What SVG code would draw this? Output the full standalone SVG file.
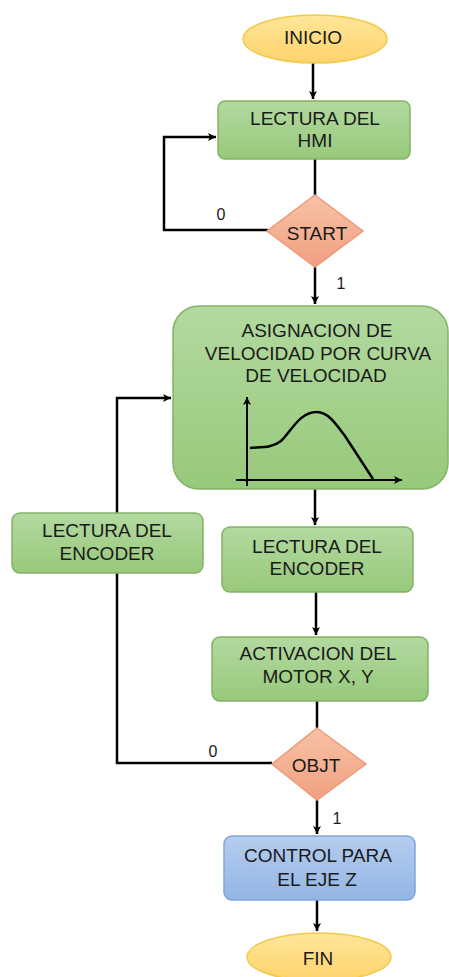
<svg xmlns="http://www.w3.org/2000/svg" width="449" height="977" viewBox="0 0 449 977">
<defs>
<linearGradient id="gY" x1="0" y1="0" x2="0" y2="1"><stop offset="0" stop-color="#FFE69A"/><stop offset="1" stop-color="#FFD36B"/></linearGradient>
<linearGradient id="gG" x1="0" y1="0" x2="0" y2="1"><stop offset="0" stop-color="#B3D9A0"/><stop offset="1" stop-color="#97C97B"/></linearGradient>
<linearGradient id="gO" x1="0" y1="0" x2="0" y2="1"><stop offset="0" stop-color="#F8C2A6"/><stop offset="1" stop-color="#F0A080"/></linearGradient>
<linearGradient id="gB" x1="0" y1="0" x2="0" y2="1"><stop offset="0" stop-color="#B5CDEF"/><stop offset="1" stop-color="#93B5E3"/></linearGradient>
<marker id="arr" markerWidth="10" markerHeight="10" refX="9" refY="5" orient="auto" markerUnits="userSpaceOnUse">
<path d="M1,1 L9,5 L1,9 L3,5 z" fill="#000"/>
</marker>
</defs>
<style>
text{font-family:"Liberation Sans",Arial,sans-serif;font-size:19px;fill:#1a1a1a;text-anchor:middle}
.lbl{font-size:16px}
.term{fill:url(#gY);stroke:#F2C94C;stroke-width:1.5}
.proc{fill:url(#gG);stroke:#82B366;stroke-width:1.5}
.dec{fill:url(#gO);stroke:#F0997A;stroke-width:1.5}
.blue{fill:url(#gB);stroke:#7EA6E0;stroke-width:1.5}
.c{fill:none;stroke:#000;stroke-width:2.5}
.ax{fill:none;stroke:#000;stroke-width:2}
</style>
<g id="connectors">
<path class="c" d="M313 63 V99" marker-end="url(#arr)"/>
<path class="c" d="M315 159 V195"/>
<path class="c" d="M268 230 H164 V137 H216" marker-end="url(#arr)"/>
<path class="c" d="M315 267 V304" marker-end="url(#arr)"/>
<path class="c" d="M315 489 V525" marker-end="url(#arr)"/>
<path class="c" d="M316 592 V635" marker-end="url(#arr)"/>
<path class="c" d="M317 701 V728"/>
<path class="c" d="M272 763 H117 V573"/>
<path class="c" d="M117 513 V398 H171" marker-end="url(#arr)"/>
<path class="c" d="M317 800 V834" marker-end="url(#arr)"/>
<path class="c" d="M317 900 V931" marker-end="url(#arr)"/>
<text class="lbl" x="221" y="220">0</text>
<text class="lbl" x="341" y="289">1</text>
<text class="lbl" x="213" y="757">0</text>
<text class="lbl" x="337" y="824">1</text>
</g>
<g id="inicio">
<ellipse class="term" cx="315" cy="39" rx="72" ry="24"/>
<text x="313" y="44">INICIO</text>
</g>
<g id="lectura-hmi">
<rect class="proc" x="218" y="101" width="192" height="58" rx="7"/>
<text x="315" y="125">LECTURA DEL</text>
<text x="315" y="147">HMI</text>
</g>
<g id="start">
<path class="dec" d="M315 195 L363 231 L315 267 L267 231 Z"/>
<text x="317" y="240">START</text>
</g>
<g id="asignacion">
<rect class="proc" x="173" y="306" width="275" height="183" rx="26"/>
<text x="317" y="337">ASIGNACION DE</text>
<text x="318" y="360">VELOCIDAD  POR CURVA</text>
<text x="316" y="382">DE VELOCIDAD</text>
<path class="ax" d="M247 486 V397" marker-end="url(#arr)"/>
<path class="ax" d="M236 480 H402" marker-end="url(#arr)"/>
<path d="M250 448 C262 447 272 448 281 441 C291 432 299 412 317 412 C328 412 336 424 345 436 L373 479" fill="none" stroke="#000" stroke-width="2.5"/>
</g>
<g id="lectura-encoder-left">
<rect class="proc" x="12" y="513" width="191" height="60" rx="8"/>
<text x="107" y="537">LECTURA DEL</text>
<text x="107" y="560">ENCODER</text>
</g>
<g id="lectura-encoder">
<rect class="proc" x="222" y="527" width="191" height="65" rx="8"/>
<text x="317" y="553">LECTURA DEL</text>
<text x="317" y="575">ENCODER</text>
</g>
<g id="activacion">
<rect class="proc" x="212" y="637" width="216" height="64" rx="8"/>
<text x="318" y="660">ACTIVACION DEL</text>
<text x="318" y="683">MOTOR X, Y</text>
</g>
<g id="objt">
<path class="dec" d="M317 728 L366 764 L317 800 L272 764 Z"/>
<text x="316" y="772">OBJT</text>
</g>
<g id="control-z">
<rect class="blue" x="224" y="836" width="191" height="64" rx="8"/>
<text x="318" y="862">CONTROL PARA</text>
<text x="317" y="886">EL EJE Z</text>
</g>
<g id="fin">
<ellipse class="term" cx="319" cy="957" rx="72" ry="24"/>
<text x="318" y="965">FIN</text>
</g>
</svg>
